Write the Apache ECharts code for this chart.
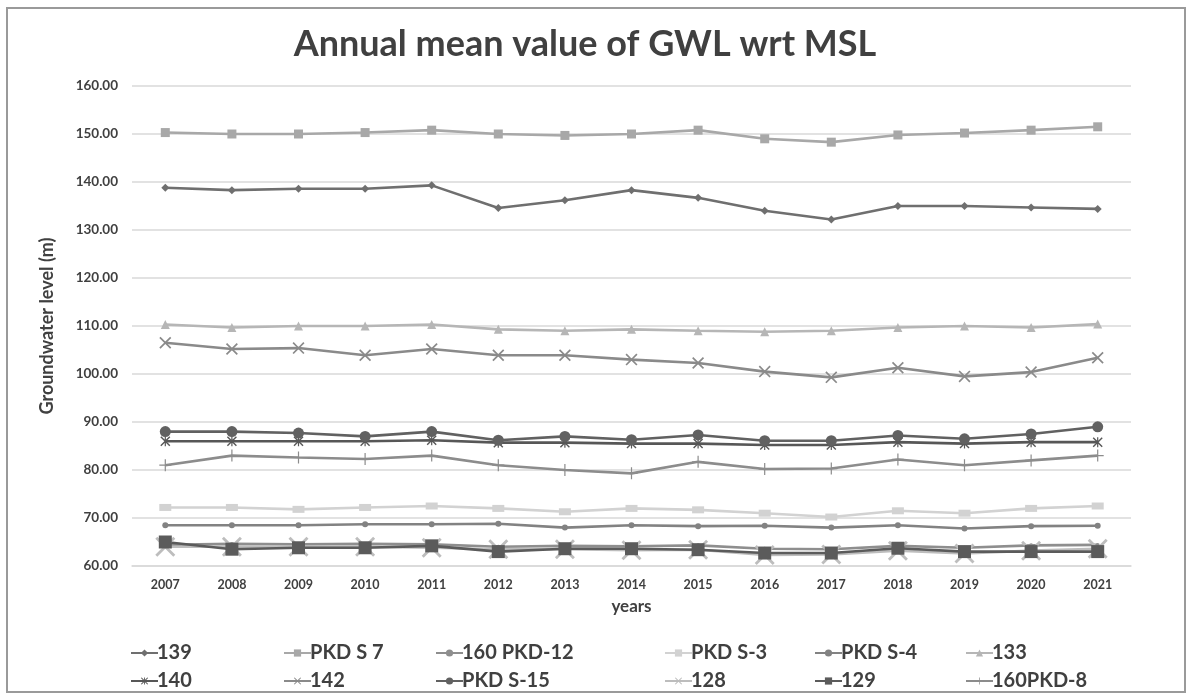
<!DOCTYPE html>
<html>
<head>
<meta charset="utf-8">
<script src="https://cdn.jsdelivr.net/npm/echarts@6/dist/echarts.min.js"></script>
<style>
  html, body { margin: 0; padding: 0; background: #fff; }
  #chart { width: 1192px; height: 695px; }
</style>
</head>
<body>
<div id="chart"></div>
<script>
// data
const years = ['2007', '2008', '2009', '2010', '2011', '2012', '2013', '2014', '2015', '2016', '2017', '2018', '2019', '2020', '2021']
const s139 = [138.8, 138.3, 138.6, 138.6, 139.3, 134.6, 136.2, 138.3, 136.7, 134.0, 132.2, 135.0, 135.0, 134.7, 134.4]
const pkdS7 = [150.3, 150.0, 150.0, 150.3, 150.8, 150.0, 149.7, 150.0, 150.8, 149.0, 148.3, 149.8, 150.2, 150.8, 151.5]
const s160pkd12 = [64.4, 64.6, 64.5, 64.6, 64.5, 64.0, 64.2, 64.1, 64.3, 63.6, 63.5, 64.2, 63.8, 64.3, 64.4]
const pkdS3 = [72.2, 72.2, 71.8, 72.2, 72.5, 72.0, 71.3, 72.0, 71.7, 71.0, 70.2, 71.5, 71.0, 72.0, 72.5]
const pkdS4 = [68.5, 68.5, 68.5, 68.7, 68.7, 68.8, 68.0, 68.5, 68.3, 68.4, 68.0, 68.5, 67.8, 68.3, 68.4]
const s133 = [110.3, 109.7, 110.0, 110.0, 110.3, 109.3, 109.0, 109.3, 109.0, 108.8, 109.0, 109.7, 110.0, 109.7, 110.4]
const s140 = [86.0, 86.0, 86.0, 86.0, 86.2, 85.7, 85.7, 85.5, 85.5, 85.2, 85.2, 85.8, 85.5, 85.8, 85.8]
const s142 = [106.5, 105.2, 105.4, 103.9, 105.2, 103.9, 103.9, 103.0, 102.3, 100.5, 99.3, 101.3, 99.5, 100.4, 103.4]
const pkdS15 = [88.0, 88.0, 87.7, 87.0, 88.0, 86.2, 87.0, 86.3, 87.3, 86.1, 86.1, 87.2, 86.5, 87.5, 89.0]
const s128 = [64.0, 64.0, 64.0, 64.0, 63.8, 63.5, 63.5, 63.3, 63.4, 62.3, 62.4, 63.2, 62.6, 63.2, 63.6]
const s129 = [65.0, 63.5, 63.8, 63.8, 64.2, 63.0, 63.6, 63.6, 63.4, 62.7, 62.7, 63.7, 63.0, 63.0, 63.0]
const s160pkd8 = [81.0, 83.0, 82.6, 82.3, 83.0, 81.0, 80.0, 79.3, 81.7, 80.2, 80.3, 82.2, 81.0, 82.0, 83.0]
const yTicks = [60, 70, 80, 90, 100, 110, 120, 130, 140, 150, 160]

const font = 'Lato, "Open Sans", sans-serif'
const X_PATH = 'path://M0,1L1,0L5,4L9,0L10,1L6,5L10,9L9,10L5,6L1,10L0,9L4,5Z'
const STAR_PATH = 'path://M0,1L1,0L5,4L9,0L10,1L6,5L10,9L9,10L5,6L1,10L0,9L4,5ZM4.4,0H5.6V10H4.4Z'
const PLUS_PATH = 'path://M4.5,0H5.5V4.5H10V5.5H5.5V10H4.5V5.5H0V4.5H4.5Z'

const mk = (name, data, color, symbol, size, width) => ({
  name,
  type: 'line',
  data,
  symbol,
  symbolSize: size,
  color,
  lineStyle: { color, width: width || 2.6 },
  itemStyle: { color },
  animation: false,
  z: 2
})

const series = [
  mk('139', s139, '#6f6f6f', 'diamond', 8),
  mk('PKD S 7', pkdS7, '#a8a8a8', 'rect', 9),
  mk('160 PKD-12', s160pkd12, '#8e8e8e', 'circle', 4),
  mk('PKD S-3', pkdS3, '#d2d2d2', 'rect', [12, 7]),
  mk('PKD S-4', pkdS4, '#828282', 'circle', 6),
  mk('133', s133, '#b6b6b6', 'triangle', 9),
  mk('140', s140, '#575757', STAR_PATH, 10),
  mk('142', s142, '#8a8a8a', X_PATH, 12),
  mk('PKD S-15', pkdS15, '#616161', 'circle', 11),
  mk('128', s128, '#bdbdbd', X_PATH, 20),
  mk('129', s129, '#5b5b5b', 'rect', 13),
  mk('160PKD-8', s160pkd8, '#8c8c8c', PLUS_PATH, 12)
]

// one legend per item: column x and row for each name
const legendCols = [125, 278, 430, 659, 809, 960]
const legendRows = [638, 666]
const legends = series.map((s, i) => ({
  left: legendCols[i % 6],
  top: legendRows[Math.floor(i / 6)],
  itemWidth: 27,
  itemHeight: 9,
  data: [s.name],
  textStyle: { fontFamily: font, fontSize: 20, fontWeight: 'bold', color: '#404040', padding: [0, 0, 0, -6] }
}))

const chart = echarts.init(document.getElementById('chart'))
chart.setOption({
  backgroundColor: '#fff',
  animation: false,
  title: {
    text: 'Annual mean value of GWL wrt MSL',
    left: 580,
    top: 21,
    textAlign: 'center',
    textStyle: { fontFamily: font, fontSize: 36, fontWeight: 'bold', color: '#404040' }
  },
  graphic: [{
    type: 'rect',
    shape: { x: 7, y: 8, width: 1178, height: 684 },
    style: { fill: null, stroke: '#9a9a9a', lineWidth: 2 },
    silent: true
  }],
  legend: legends,
  grid: { left: 132, right: 61, top: 86, bottom: 129 },
  xAxis: {
    type: 'category',
    data: years,
    boundaryGap: true,
    name: 'years',
    nameLocation: 'middle',
    nameGap: 32,
    nameTextStyle: { fontFamily: font, fontSize: 17, fontWeight: 'bold', color: '#404040' },
    axisLine: { lineStyle: { color: '#d9d9d9', width: 1.5 } },
    axisTick: { show: false },
    axisLabel: { fontFamily: font, fontSize: 12.5, fontWeight: 'bold', color: '#404040', margin: 12 }
  },
  yAxis: {
    type: 'value',
    min: yTicks[0],
    max: yTicks[yTicks.length - 1],
    interval: 10,
    name: 'Groundwater level (m)',
    nameLocation: 'middle',
    nameGap: 76,
    nameTextStyle: { fontFamily: font, fontSize: 18, fontWeight: 'bold', color: '#404040' },
    axisLine: { show: false },
    axisTick: { show: false },
    splitLine: { lineStyle: { color: '#d9d9d9', width: 1.5 } },
    axisLabel: {
      fontFamily: font, fontSize: 13.5, fontWeight: 'bold', color: '#404040', margin: 14,
      formatter: v => v.toFixed(2)
    }
  },
  series
})
</script>
</body>
</html>
